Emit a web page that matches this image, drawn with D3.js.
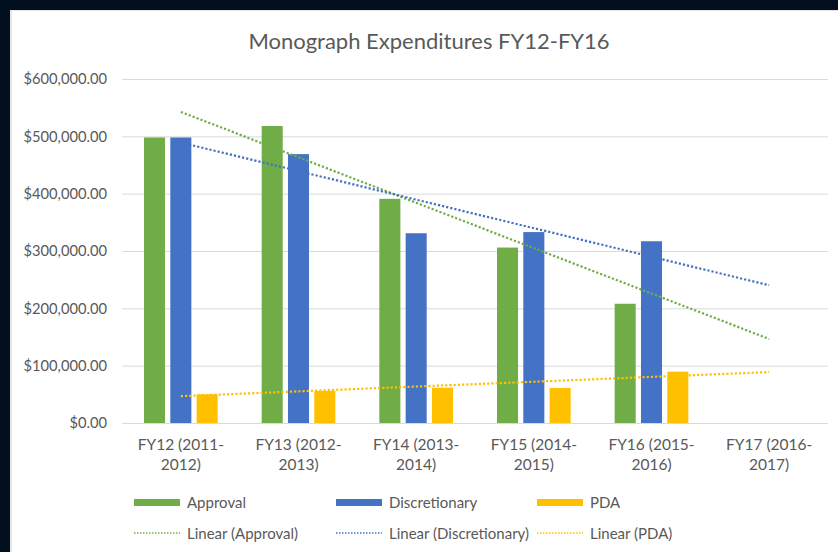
<!DOCTYPE html>
<html>
<head>
<meta charset="utf-8">
<script src="https://cdn.jsdelivr.net/npm/d3@7"></script>
<style>
  body { margin: 0; background: #020f1f; }
  svg { display: block; }
  text { font-family: Lato, "Open Sans", sans-serif; fill: #595959; }
</style>
</head>
<body>
<svg id="chart"></svg>
<script>
// categories (last one has no data, only the trend forecast reaches it)
const categories = ['FY12 (2011-2012)', 'FY13 (2012-2013)', 'FY14 (2013-2014)',
                    'FY15 (2014-2015)', 'FY16 (2015-2016)', 'FY17 (2016-2017)'];
const seriesNames = ['Approval', 'Discretionary', 'PDA'];
const approval = [498000, 518000, 391000, 306000, 208000];
const discretionary = [498000, 469000, 331000, 333000, 317000];
const pda = [50000, 56000, 61500, 61000, 89500];
const yTicks = [0, 100000, 200000, 300000, 400000, 500000, 600000];
const colors = ['#70AD47', '#4472C4', '#FFC000'];

const W = 838, H = 552;
const margin = { top: 79, right: 10, bottom: 129, left: 122 };

const svg = d3.select('#chart').attr('width', W).attr('height', H);

// white slide panel
svg.append('rect').attr('x', 10).attr('y', 10).attr('width', W - 10).attr('height', H - 10)
    .attr('fill', '#e6e6e6');
svg.append('rect').attr('x', 12).attr('y', 11).attr('width', W - 12).attr('height', H - 11)
    .attr('fill', '#ffffff');

const x0 = d3.scaleBand().domain(categories).range([margin.left, W - margin.right]);
const x1 = d3.scaleBand().domain(seriesNames)
    .range([22, x0.bandwidth() - 22]).paddingInner(0.2);
const y = d3.scaleLinear().domain([0, 600000]).range([H - margin.bottom, margin.top]);

// title
svg.append('text')
    .attr('x', 429).attr('y', 49)
    .attr('text-anchor', 'middle')
    .style('font-size', '22px')
    .text('Monograph Expenditures FY12-FY16');

// y axis + gridlines
const yAxis = svg.append('g')
    .attr('transform', `translate(${margin.left},0)`)
    .call(d3.axisLeft(y).tickValues(yTicks).tickFormat(d3.format('$,.2f'))
        .tickSize(-(W - margin.right - margin.left)).tickPadding(15));
yAxis.select('.domain').remove();
yAxis.selectAll('line').attr('stroke', '#d9d9d9');
yAxis.selectAll('text').style('font-size', '14.7px').style('font-family', 'Lato, sans-serif')
    .attr('fill', '#595959');

// x axis labels (wrapped after the hyphen)
const xAxis = svg.append('g')
    .attr('transform', `translate(0,${H - margin.bottom})`)
    .call(d3.axisBottom(x0).tickSize(0).tickPadding(0));
xAxis.select('.domain').remove();
xAxis.selectAll('text').each(function(d) {
    const t = d3.select(this);
    const cut = d.indexOf('-') + 1;
    t.text(null).attr('y', 0).attr('dy', null)
        .style('font-size', '15.5px').style('font-family', 'Lato, sans-serif').attr('fill', '#595959');
    t.append('tspan').attr('x', 0).attr('y', 27).text(d.slice(0, cut));
    t.append('tspan').attr('x', 0).attr('y', 47).text(d.slice(cut));
});

// bars
const allSeries = [approval, discretionary, pda];
const rows = categories.slice(0, 5).map((c, i) => ({
    cat: c,
    vals: seriesNames.map((s, j) => ({ key: s, value: allSeries[j][i], color: colors[j] }))
}));

svg.append('g').selectAll('g')
    .data(rows)
    .join('g')
        .attr('transform', d => `translate(${x0(d.cat)},0)`)
    .selectAll('rect')
    .data(d => d.vals)
    .join('rect')
        .attr('x', d => x1(d.key))
        .attr('width', x1.bandwidth())
        .attr('y', d => y(d.value))
        .attr('height', d => y(0) - y(d.value))
        .attr('fill', d => d.color);

// linear trendlines, forecast one period forward like Excel
function linearFit(vals) {
    const xs = vals.map((v, i) => i + 1);
    const mx = d3.mean(xs), my = d3.mean(vals);
    const slope = d3.sum(xs, (xv, i) => (xv - mx) * (vals[i] - my)) / d3.sum(xs, xv => (xv - mx) * (xv - mx));
    return xv => my + slope * (xv - mx);
}

const center = c => x0(c) + x0.bandwidth() / 2;
allSeries.forEach((vals, j) => {
    const f = linearFit(vals);
    svg.append('line')
        .attr('x1', center(categories[0])).attr('y1', y(f(1)))
        .attr('x2', center(categories[5])).attr('y2', y(f(6)))
        .attr('stroke', colors[j])
        .attr('stroke-width', 2.2)
        .attr('stroke-dasharray', '2.2 2');
});

// legend
const legendX = [134, 336, 537];
const legend = svg.append('g');
seriesNames.forEach((s, j) => {
    legend.append('rect')
        .attr('x', legendX[j]).attr('y', 499)
        .attr('width', 46).attr('height', 7)
        .attr('fill', colors[j]);
    legend.append('text')
        .attr('x', legendX[j] + 53).attr('y', 508)
        .style('font-size', '15px')
        .text(s);
    legend.append('line')
        .attr('x1', legendX[j]).attr('x2', legendX[j] + 46)
        .attr('y1', 533).attr('y2', 533)
        .attr('stroke', colors[j]).attr('stroke-width', 1.5)
        .attr('stroke-dasharray', '1.5 1.5');
    legend.append('text')
        .attr('x', legendX[j] + 53).attr('y', 539)
        .style('font-size', '15px')
        .text(`Linear (${s})`);
});
</script>
</body>
</html>
